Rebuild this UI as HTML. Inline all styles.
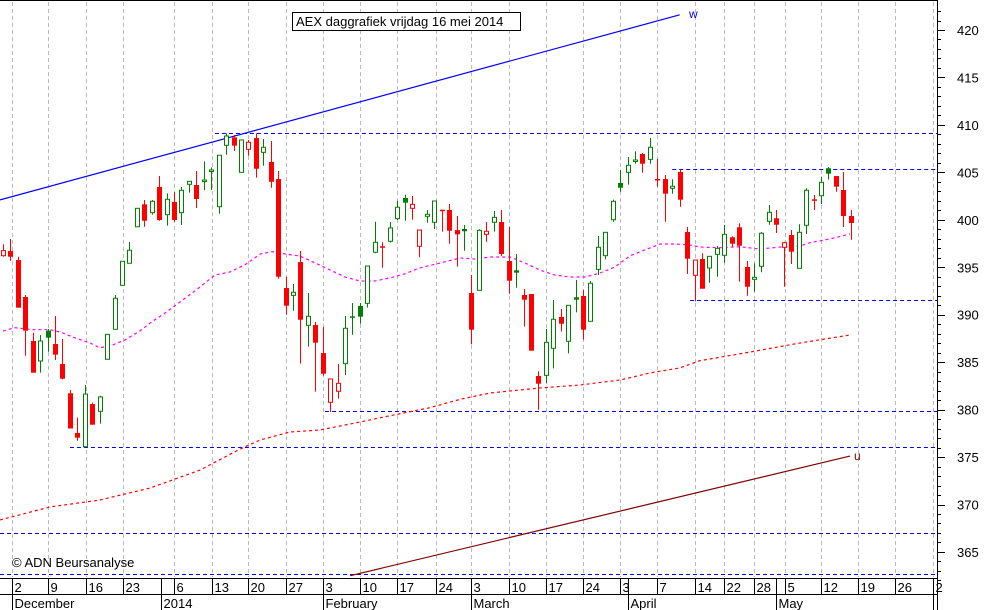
<!DOCTYPE html>
<html><head><meta charset="utf-8"><style>
html,body{margin:0;padding:0;background:#fff;}
svg{display:block;font-family:"Liberation Sans",sans-serif;}
</style></head><body>
<svg id="chart" width="985" height="610" viewBox="0 0 985 610" xmlns="http://www.w3.org/2000/svg">
<rect x="0" y="0" width="985" height="610" fill="#fff"/>
<g id="grid"></g>
<g id="hlines"></g>
<g id="trend"></g>
<g id="mas"></g>
<g id="candles"></g>
<g id="axis"></g>
<g id="xaxis"></g>
<line x1="0" y1="0.5" x2="937" y2="0.5" stroke="#000"/>
<rect x="292.5" y="12.5" width="228" height="18" fill="#fff" stroke="#000"/>
<text x="296" y="26" font-size="13" fill="#000">AEX daggrafiek vrijdag 16 mei 2014</text>
<text x="12" y="567" font-size="13" fill="#000">© ADN Beursanalyse</text>
<text x="689" y="18" font-size="12" fill="#0000ff">w</text>
<text x="854" y="460" font-size="12" fill="#800000">u</text>
</svg>
<script>
const opens=[396.22,396.71,395.76,391.87,387.23,385.12,388.32,386.91,384.80,381.72,377.54,376.09,380.59,379.82,385.30,388.46,393.10,395.42,399.27,401.63,400.75,403.46,400.54,401.88,400.75,403.74,403.67,404.12,405.22,401.38,407.85,408.69,405.00,407.43,408.62,407.11,406.09,404.30,392.81,392.04,395.55,388.88,388.92,385.96,380.77,381.93,384.84,389.83,390.92,391.20,396.58,397.21,397.74,400.12,402.30,401.21,397.21,400.37,399.74,401.06,401.03,398.92,399.03,392.29,392.57,398.47,399.74,399.77,395.66,394.68,392.08,392.18,383.54,383.61,386.46,389.76,387.20,391.84,391.97,389.30,394.78,396.22,400.01,403.88,405.00,406.23,406.93,406.37,404.30,404.30,403.32,405.04,398.71,394.15,395.87,394.92,396.36,396.26,398.16,399.21,395.03,393.73,395.10,399.84,400.16,397.10,398.40,394.89,399.42,402.16,402.54,405.43,404.61,403.14,400.40];
const highs=[397.42,397.98,396.11,392.08,388.10,387.86,388.49,389.86,387.44,382.07,379.15,382.59,380.73,381.46,387.93,392.08,395.63,397.66,401.21,402.09,402.09,404.61,402.79,402.93,403.46,404.09,405.14,406.16,405.53,406.80,409.11,408.94,408.41,408.41,409.11,408.51,408.30,405.14,394.00,393.23,396.71,392.29,389.23,388.70,383.23,384.80,389.86,391.23,391.23,395.13,399.80,397.63,399.77,402.01,402.64,402.51,398.92,401.03,401.98,401.06,401.66,400.40,399.45,394.18,399.00,399.77,400.93,401.03,399.24,396.40,392.71,392.18,384.04,388.49,391.55,390.60,390.99,393.66,392.60,393.55,398.29,398.68,402.12,405.25,406.62,407.22,407.04,408.62,406.41,404.72,404.27,405.32,399.24,395.76,396.47,396.15,397.24,399.45,398.26,399.63,395.66,395.42,398.71,401.56,401.03,397.69,398.92,399.53,403.32,402.61,404.54,405.56,404.61,405.04,401.03];
const lows=[396.11,395.69,390.74,385.68,383.89,383.89,386.10,385.23,383.19,378.01,376.72,376.09,378.41,378.52,385.30,388.46,393.10,395.42,399.27,399.27,400.54,399.90,399.38,399.80,399.45,402.86,401.24,403.14,403.14,400.64,406.86,407.25,405.00,406.75,404.44,405.70,403.38,393.79,390.00,390.42,384.84,386.63,381.89,383.57,379.75,381.15,383.65,387.89,389.05,390.74,396.47,394.95,397.59,399.98,399.90,400.01,396.05,399.69,399.03,398.75,397.48,395.06,396.74,386.88,392.57,397.69,398.75,396.19,392.21,392.84,388.74,386.21,379.99,382.80,384.35,388.21,385.93,390.25,387.37,389.30,394.18,395.84,399.80,402.96,403.70,405.91,404.96,405.91,403.49,399.80,402.75,401.38,394.29,391.41,392.74,393.37,394.00,395.48,397.17,393.48,392.00,392.42,394.47,399.48,398.61,392.95,395.34,394.89,398.50,401.03,401.66,404.23,402.96,399.24,397.90];
const closes=[396.75,396.11,390.74,388.32,383.89,387.23,387.58,385.79,383.26,378.01,377.04,381.64,378.41,381.33,387.93,391.73,395.63,396.79,401.21,399.90,401.95,399.98,402.16,399.98,403.11,404.06,402.19,404.19,405.25,406.80,408.83,407.81,408.41,408.17,405.38,407.64,404.01,394.00,390.95,392.36,389.47,389.83,387.05,383.78,383.23,382.77,388.57,389.68,389.79,395.13,397.63,397.10,399.14,401.32,401.80,401.63,398.92,400.58,401.98,401.00,398.85,398.47,398.79,388.42,398.89,398.79,400.26,396.40,393.58,394.43,391.58,386.21,382.73,387.09,389.52,389.05,390.99,391.58,388.42,393.31,397.10,398.68,401.95,403.38,405.74,406.30,405.91,407.64,404.23,402.75,403.53,402.12,395.90,395.76,392.74,396.15,396.99,398.47,397.48,397.27,392.95,393.94,398.58,400.79,399.48,397.59,396.64,398.68,403.11,402.05,403.95,404.86,403.49,400.40,399.66];
const ma20Idx=[0,1.6,4,6.3,7.7,9.7,11.7,13,14.4,16.4,18.4,19.8,21.8,23.8,26.5,28.5,30.5,32.5,34.6,36.2,37.9,39.9,42,44,46,48,50,52,54,56,58.8,61.5,63.5,65.5,68.2,70.2,72.2,74.2,76.3,78.3,80.3,82.3,84.3,86.3,88.4,90.4,92.4,93.7,96.4,99.1,101.8,104.5,107.2,108.5,111.2,113.9];
const ma20Val=[388.28,388.63,388.42,388.42,388.18,387.55,387.02,386.52,386.70,387.34,388.28,389.13,390.18,391.34,392.92,394.18,394.5,395.24,396.40,396.64,396.40,396.19,395.45,394.71,393.97,393.55,393.55,393.87,394.29,394.92,395.45,395.98,395.87,396.08,396.08,395.45,394.71,394.18,393.97,393.97,394.40,395.03,396.19,396.82,397.45,397.45,397.34,397.13,397.06,397.16,396.92,397.13,397.24,397.59,397.98,398.50];
const ma100Idx=[-0.4,6.3,13,19.8,26.5,31.9,34.6,38.6,42.6,48,51.4,57.4,61.5,65.5,72.2,77.6,83,87,91,93.7,100.5,107.2,113.9];
const ma100Val=[368.37,369.74,370.47,371.74,373.63,375.85,376.80,377.64,377.85,378.69,379.25,380.20,381.09,381.75,382.28,382.59,383.12,383.86,384.39,385.15,386.07,387.02,387.86];
const hLevels=[409.1,405.4,391.5,379.9,376.1,367.0,362.7];
const hStartIdx=[28.5,90,92.4,43.3,9,-1,-1];
const trendW=[[-0.4,402.1],[91,421.6]];
const trendU=[[46.7,362.5],[113.9,375.1]];
const priceTicks=[420,415,410,405,400,395,390,385,380,375,370,365];
const weekLabels=["2","9","16","23","6","13","20","27","3","10","17","24","3","10","17","24","3","7","14","22","28","5","12","19","26","2"];
const weekIdx=[1.2,6.1,11.1,16.1,23,28.1,33,38,43.1,48,53,58.2,63,68.1,73,78,83,88,93,97,101,105.1,110,115,120,125];
const monthLabels=["December","2014","February","March","April","May",""];
const monthIdx=[1.2,21.2,43.1,63,84.1,104,125];

const NS="http://www.w3.org/2000/svg";
const X0=3,DX=7.436,RIGHT=937,BOTTOM=577;
function xOf(i){return X0+i*DX;}
function yOf(v){return 30+(420-v)*9.49;}
function mk(tag,attrs,parent){const e=document.createElementNS(NS,tag);for(const k in attrs)e.setAttribute(k,attrs[k]);parent.appendChild(e);return e;}

const grid=document.getElementById('grid');
weekIdx.forEach((wi,k)=>{
  const x=Math.round(xOf(wi))+0.5;
  if(x>RIGHT)return;
  const l=mk('line',{x1:x,y1:2,x2:x,y2:BOTTOM,stroke:'#bbb','stroke-dasharray':'4,3'},grid);
  
  
});

const hl=document.getElementById('hlines');
hLevels.forEach((v,k)=>{
  const y=Math.round(yOf(v))+0.5;
  const l=mk('line',{x1:Math.max(0,xOf(hStartIdx[k])),y1:y,x2:RIGHT,y2:y,stroke:'#0000ff','stroke-dasharray':'4,3'},hl);
  
  
});

const tr=document.getElementById('trend');
let tw=mk('line',{x1:xOf(trendW[0][0]),y1:yOf(trendW[0][1]),x2:xOf(trendW[1][0]),y2:yOf(trendW[1][1]),stroke:'#0000ff','stroke-width':1.2},tr);


let tu=mk('line',{x1:xOf(trendU[0][0]),y1:yOf(trendU[0][1]),x2:xOf(trendU[1][0]),y2:yOf(trendU[1][1]),stroke:'#800000','stroke-width':1.2},tr);



const mas=document.getElementById('mas');
let p1=mk('polyline',{points:ma20Idx.map((v,k)=>xOf(v)+','+yOf(ma20Val[k])).join(' '),fill:'none',stroke:'#ff00ff','stroke-width':1.2,'stroke-dasharray':'3,3'},mas);


let p2=mk('polyline',{points:ma100Idx.map((v,k)=>xOf(v)+','+yOf(ma100Val[k])).join(' '),fill:'none',stroke:'#ff0000','stroke-width':1.2,'stroke-dasharray':'3,3'},mas);



const cg=document.getElementById('candles');
closes.forEach((c,i)=>{
  const o=opens[i],h=highs[i],lo=lows[i];
  const prev=i>0?closes[i-1]:397;
  const col=c>=prev?'#008000':'#ff0000';
  const filled=c<o;
  const x=Math.round(xOf(i));
  const g=mk('g',{},cg);
  
  
  mk('line',{x1:x+0.5,y1:yOf(h),x2:x+0.5,y2:yOf(lo),stroke:col,'stroke-width':1},g);
  const top=yOf(Math.max(o,c)),bot=yOf(Math.min(o,c));
  const hgt=Math.max(1.5,bot-top);
  if(filled){mk('rect',{x:x-2,y:top,width:5,height:hgt,fill:col},g);}
  else{mk('rect',{x:x-1.5,y:top,width:4,height:hgt,fill:'#fff',stroke:col,'stroke-width':1},g);}
});

const ax=document.getElementById('axis');
mk('line',{x1:RIGHT+0.5,y1:0,x2:RIGHT+0.5,y2:610,stroke:'#000'},ax);
for(let v=362;v<=422;v++){
  const y=Math.round(yOf(v))+0.5;
  const major=v%5===0;
  mk('line',{x1:RIGHT,y1:y,x2:RIGHT+(major?8:4),y2:y,stroke:'#000'},ax);
}
priceTicks.forEach(v=>{
  const t=mk('text',{x:957,y:yOf(v)+5,'font-size':13,fill:'#000'},ax);
  t.textContent=v;
  
  
});

const xa=document.getElementById('xaxis');
mk('line',{x1:0,y1:578.5,x2:RIGHT,y2:578.5,stroke:'#000'},xa);
mk('line',{x1:0,y1:594.5,x2:RIGHT,y2:594.5,stroke:'#000'},xa);
weekIdx.forEach((wi,k)=>{
  const x=Math.round(xOf(wi))+0.5;
  if(x>RIGHT)return;
  mk('line',{x1:x,y1:578,x2:x,y2:594,stroke:'#000'},xa);
  const t=mk('text',{x:x+2,y:592,'font-size':13,fill:'#000'},xa);
  t.textContent=weekLabels[k];
  
  
});
monthIdx.forEach((mi,k)=>{
  const x=Math.round(xOf(mi))+0.5;
  if(x>RIGHT)return;
  mk('line',{x1:x,y1:578,x2:x,y2:610,stroke:'#000'},xa);
  const t=mk('text',{x:x+2,y:608,'font-size':13,fill:'#000'},xa);
  t.textContent=monthLabels[k];
  
  
});
</script>
</body></html>
